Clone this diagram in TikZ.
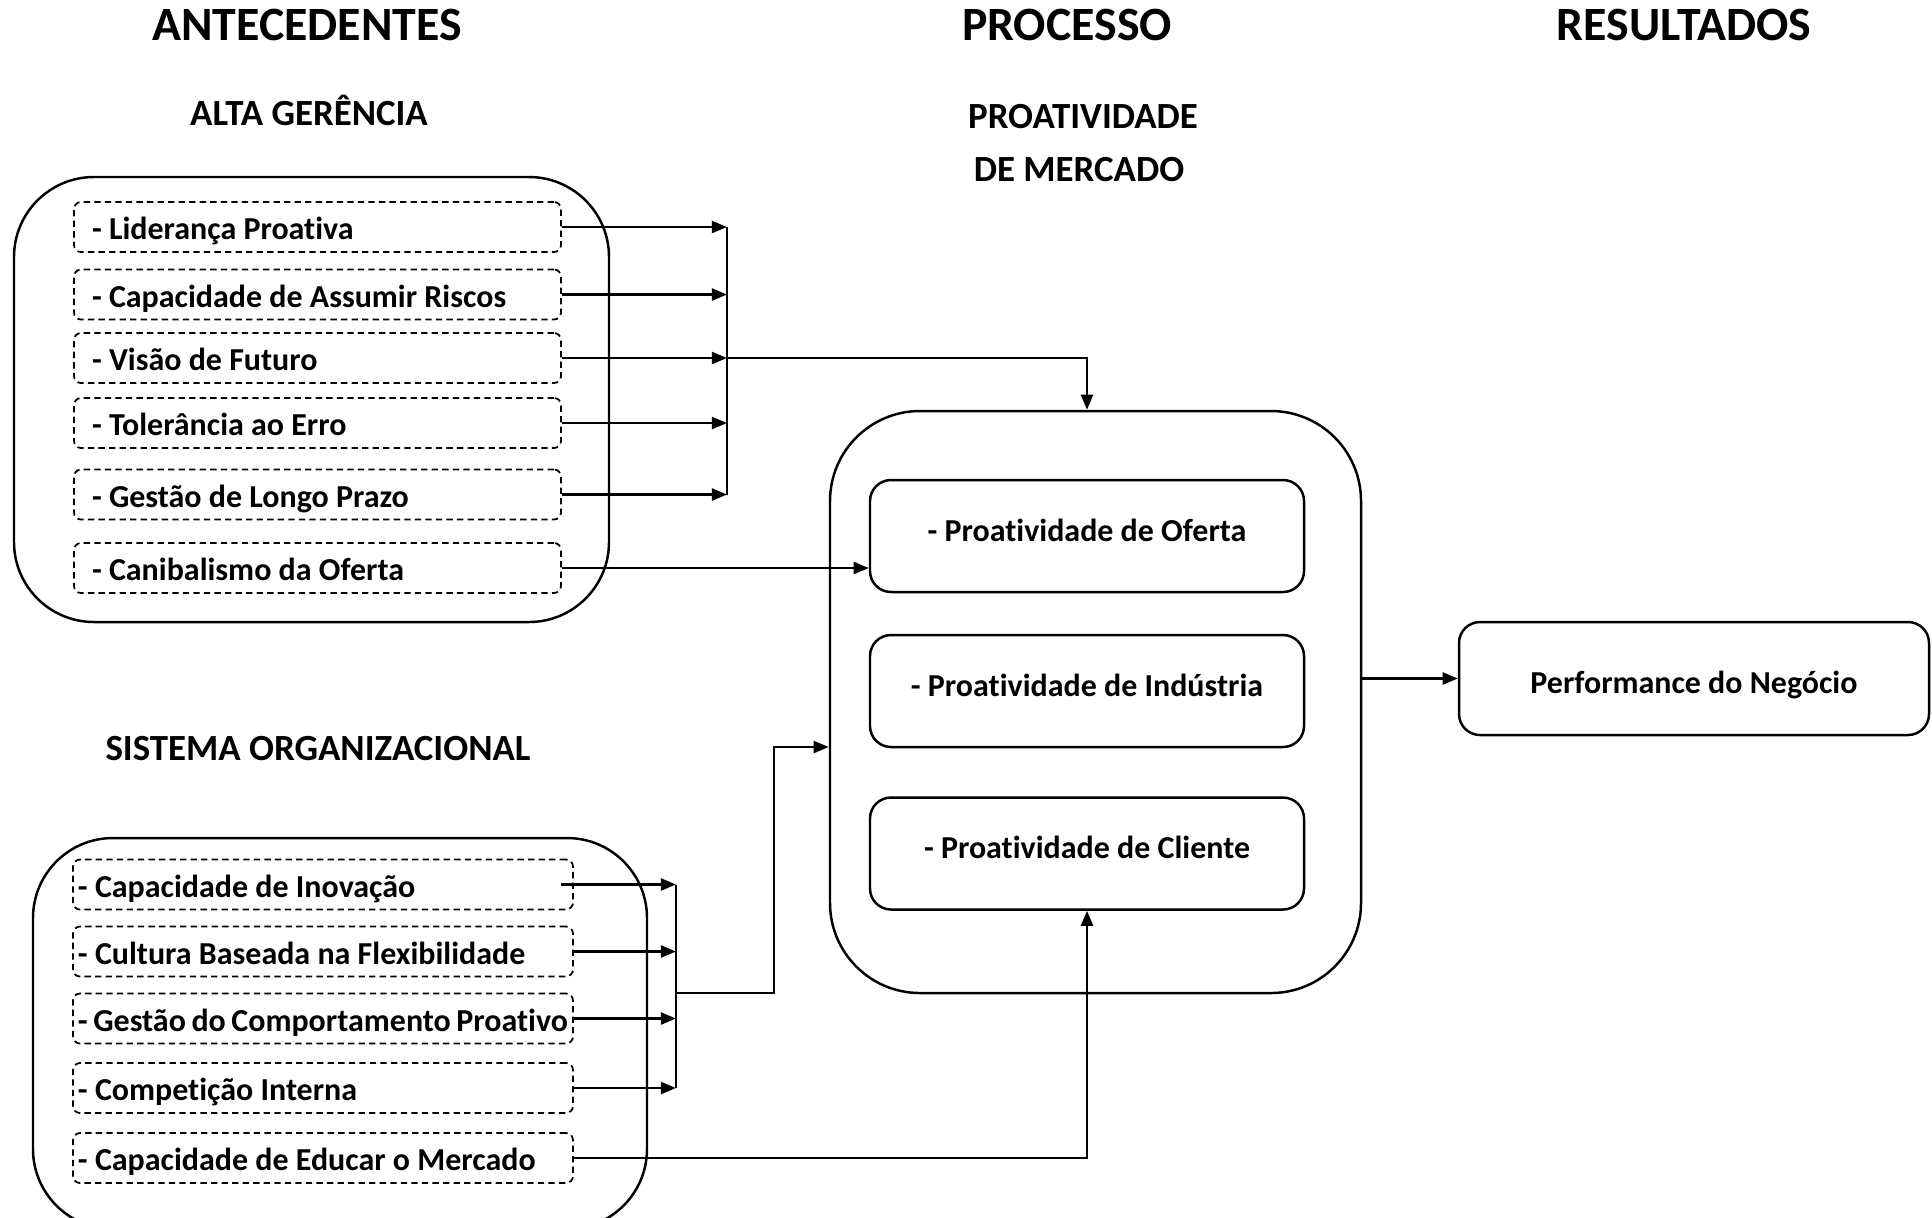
\documentclass[tikz,border=0pt]{standalone}
\usepackage{fontspec}
\setmainfont{Carlito}[RawFeature={-liga}]
\usetikzlibrary{arrows.meta}
\tikzstyle{bigbox}=[draw, rounded corners=0.8cm]
\tikzstyle{itembox}=[draw, line width=0.5pt, dash pattern=on 1.8pt off 1.2pt, rounded corners=2pt, minimum height=0.5cm, inner ysep=0pt, text height=0.3cm, text depth=0.05cm]
\tikzstyle{topitem}=[itembox, inner xsep=0.18cm, execute at begin node={\hbox to 4.51cm\bgroup}, execute at end node={\hfil\egroup}]
\tikzstyle{lowitem}=[itembox, inner xsep=0.05cm, execute at begin node={\hbox to 4.9cm\bgroup}, execute at end node={\hfil\egroup}]
\tikzstyle{probox}=[draw, rounded corners=0.21cm, minimum width=4.34cm, minimum height=1.12cm, text height=0.2cm, text depth=0.094cm]
\tikzstyle{heading}=[anchor=base, font=\fontsize{13.6}{16}\selectfont\bfseries]
\tikzstyle{subheading}=[anchor=base, font=\fontsize{10.5}{13}\selectfont\bfseries]

\begin{document}
\begin{tikzpicture}[line width=0.7pt, >={Triangle[length=4.3pt,width=3.4pt]}, every node/.style={font=\fontsize{9.1}{11}\selectfont\bfseries}]
        \clip (0,0) rectangle (19.32,-12.17);

        % column titles
        \node (ant) at (3.07,-0.405) [heading] {ANTECEDENTES};
        \node (proc) at (10.67,-0.405) [heading] {PROCESSO};
        \node (res) at (16.84,-0.405) [heading] {RESULTADOS};
        \node (alta) at (3.09,-1.25) [subheading] {ALTA GERÊNCIA};
        \node (pro1) at (10.83,-1.28) [subheading] {PROATIVIDADE};
        \node (pro2) at (10.79,-1.81) [subheading] {DE MERCADO};
        \node (sist) at (3.18,-7.60) [subheading] {SISTEMA ORGANIZACIONAL};

        % containers
        \node (altabox) at (3.115,-3.995) [bigbox, minimum width=5.95cm, minimum height=4.45cm] {};
        \node (sistbox) at (3.40,-10.335) [bigbox, minimum width=6.14cm, minimum height=3.91cm] {};
        \node (mid) at (10.955,-7.02) [bigbox, rounded corners=0.9cm, minimum width=5.31cm, minimum height=5.82cm] {};

        % alta gerencia items
        \node (l1) at (3.175,-2.27) [topitem] {- Liderança Proativa};
        \node (l2) at (3.175,-2.945) [topitem] {- Capacidade de Assumir Riscos};
        \node (l3) at (3.175,-3.58) [topitem] {- Visão de Futuro};
        \node (l4) at (3.175,-4.23) [topitem] {- Tolerância ao Erro};
        \node (l5) at (3.175,-4.945) [topitem] {- Gestão de Longo Prazo};
        \node (l6) at (3.175,-5.68) [topitem] {- Canibalismo da Oferta};

        % sistema organizacional items
        \node (s1) at (3.23,-8.845) [lowitem] {- Capacidade de Inovação};
        \node (s2) at (3.23,-9.515) [lowitem] {- Cultura Baseada na Flexibilidade};
        \node (s3) at (3.23,-10.185) [lowitem] {- Gestão do Comportamento Proativo};
        \node (s4) at (3.23,-10.88) [lowitem] {- Competição Interna};
        \node (s5) at (3.23,-11.58) [lowitem] {- Capacidade de Educar o Mercado};

        % proatividade de mercado
        \node (oferta) at (10.87,-5.36) [probox] {- Proatividade de Oferta};
        \node (industria) at (10.87,-6.91) [probox] {- Proatividade de Indústria};
        \node (cliente) at (10.87,-8.535) [probox] {- Proatividade de Cliente};
        \node (perf) at (16.94,-6.785) [probox, minimum width=4.70cm, minimum height=1.13cm, text height=0.33cm, text depth=0.03cm] {Performance do Negócio};

        \coordinate (busA) at (7.27,-2.31);
        \coordinate (busB) at (6.76,-9.93);
        \coordinate (bend) at (7.74,-7.47);

        % arrows from alta gerencia
        \draw[->] (l1.east) -- (l1.east -| busA);
        \draw[->] (l2.east) -- (l2.east -| busA);
        \draw[->] (l3.east) -- (l3.east -| busA);
        \draw[->] (l4.east) -- (l4.east -| busA);
        \draw[->] (l5.east) -- (l5.east -| busA);
        \draw (l1.east -| busA) -- (l5.east -| busA);
        \draw[->] (l3.east -| busA) -- (l3.east -| cliente.south) -- (cliente.south |- mid.north);
        \draw[->] (l6.east) -- (l6.east -| oferta.west);

        % arrows from sistema organizacional
        \draw[->] ([xshift=-0.13cm]s1.east) -- (s1.east -| busB);
        \draw[->] (s2.east) -- (s2.east -| busB);
        \draw[->] (s3.east) -- (s3.east -| busB);
        \draw[->] (s4.east) -- (s4.east -| busB);
        \draw (s1.east -| busB) -- (s4.east -| busB);
        \draw[->] (busB) -- (busB -| bend) -- (bend) -- (bend -| mid.west);
        \draw[->] (s5.east) -- (s5.east -| cliente.south) -- (cliente.south);

        % to results
        \draw[->] (perf.west -| mid.east) -- (perf.west);
\end{tikzpicture}
\end{document}
